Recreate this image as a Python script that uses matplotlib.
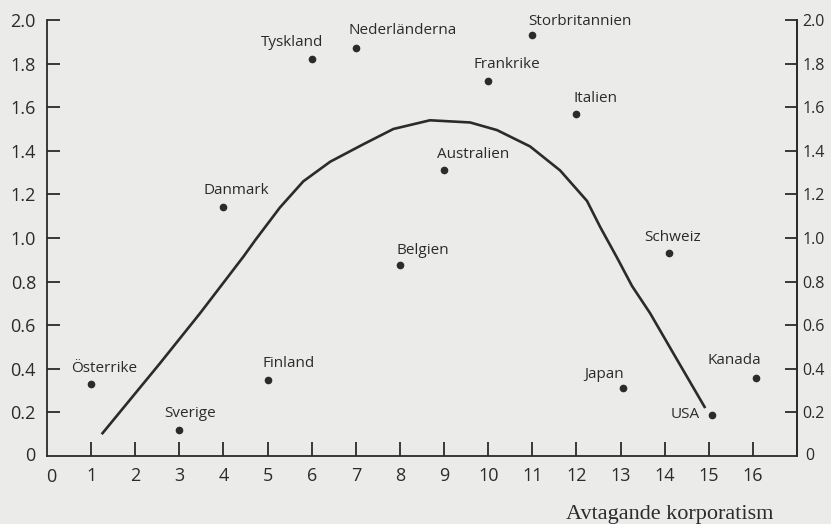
import matplotlib
matplotlib.use("Agg")
import matplotlib.pyplot as plt

countries = ["Österrike", "Sverige", "Finland", "Danmark", "Tyskland", "Nederländerna",
             "Belgien", "Australien", "Frankrike", "Storbritannien", "Italien",
             "Schweiz", "Japan", "USA", "Kanada"]
rank = [1, 3, 5, 4, 6, 7, 8, 9, 10, 11, 12, 14.1, 13.05, 15.07, 16.07]
value = [0.33, 0.12, 0.35, 1.14, 1.82, 1.87, 0.876, 1.31, 1.72, 1.93, 1.57,
         0.93, 0.31, 0.19, 0.36]

curve_x = [1.24, 2.56, 3.47, 4.45, 4.72, 5.28, 5.81, 6.42, 7.17, 7.85, 8.68,
           9.59, 10.2, 10.95, 11.63, 12.24, 12.54, 12.92, 13.26, 13.67, 14.2, 14.92]
curve_y = [0.10, 0.425, 0.655, 0.914, 0.99, 1.14, 1.26, 1.35, 1.43, 1.50, 1.54,
           1.53, 1.495, 1.42, 1.31, 1.17, 1.05, 0.91, 0.78, 0.655, 0.47, 0.22]

x_ticks = list(range(1, 17))
y_ticks = [0.2, 0.4, 0.6, 0.8, 1.0, 1.2, 1.4, 1.6, 1.8, 2.0]
y_labels = ["0.2", "0.4", "0.6", "0.8", "1.0", "1.2", "1.4", "1.6", "1.8", "2.0"]
xlabel = "Avtagande korporatism"

# label offsets in pixels (dx, dy) relative to dot, and alignment
offsets = {
    "Österrike": (13, 16, "center"), "Sverige": (11, 16, "center"),
    "Finland": (21, 16, "center"), "Danmark": (13, 17, "center"),
    "Tyskland": (-20, 17, "center"), "Nederländerna": (47, 18, "center"),
    "Belgien": (23, 15, "center"), "Australien": (29, 16, "center"),
    "Frankrike": (19, 17, "center"), "Storbritannien": (48, 14, "center"),
    "Italien": (19, 15, "center"), "Schweiz": (4, 16, "center"),
    "Japan": (-19, 14, "center"), "USA": (-12, 0, "right"),
    "Kanada": (-22, 17, "center"),
}

ink = "#2b2b2b"
bg = "#ebebe9"
sans = ["Open Sans", "DejaVu Sans"]
tick_fs = 13
right_fs = 11.5

fig = plt.figure(figsize=(8.31, 5.24), dpi=100, facecolor=bg)
ax = fig.add_axes([47 / 831, 1 - 456 / 524, (797 - 47) / 831, (456 - 20) / 524])
ax.set_facecolor(bg)
ax.set_xlim(0, 17.0)
ax.set_ylim(0, 2.0)

ax.plot(curve_x, curve_y, color=ink, lw=1.9, solid_capstyle="butt",
        solid_joinstyle="round")
ax.plot(rank, value, "o", color=ink, ms=4.5, mec=ink)

for c, xv, yv in zip(countries, rank, value):
    dx, dy, ha = offsets[c]
    ax.annotate(c, (xv, yv), xytext=(dx, dy), textcoords="offset pixels",
                ha=ha, va="center", fontsize=11, color=ink, family=sans)

for s in ["left", "bottom", "right"]:
    ax.spines[s].set_color(ink)
    ax.spines[s].set_linewidth(1.3)
ax.spines["top"].set_visible(False)

ax.set_xticks(x_ticks)
ax.set_xticklabels([str(v) for v in x_ticks])
ax.set_yticks(y_ticks)
ax.set_yticklabels(y_labels)
ax.tick_params(axis="x", direction="in", length=10, width=1.3, color=ink,
               pad=8, labelsize=tick_fs, labelcolor=ink)
ax.tick_params(axis="y", direction="in", length=9, width=1.3, color=ink,
               pad=8, labelsize=tick_fs, labelcolor=ink,
               left=True, right=False, labelleft=True, labelright=False)
for lab in ax.get_xticklabels() + ax.get_yticklabels():
    lab.set_family(sans)

# right-hand axis with the same scale
axr = ax.twinx()
axr.set_ylim(ax.get_ylim())
axr.set_yticks(y_ticks)
axr.set_yticklabels(y_labels)
axr.tick_params(axis="y", direction="in", length=9, width=1.3, color=ink,
                pad=4, labelsize=right_fs, labelcolor=ink)
for lab in axr.get_yticklabels():
    lab.set_family(sans)
for s in ["left", "bottom", "top"]:
    axr.spines[s].set_visible(False)
axr.spines["right"].set_color(ink)
axr.spines["right"].set_linewidth(1.3)

# zero labels at the corners
ax.annotate("0", (0, 0), xytext=(4, -21), textcoords="offset pixels",
            ha="center", va="center", fontsize=tick_fs, color=ink, family=sans,
            annotation_clip=False)
ax.annotate("0", (0, 0), xytext=(-17, 0), textcoords="offset pixels",
            ha="center", va="center", fontsize=tick_fs, color=ink, family=sans,
            annotation_clip=False)
ax.annotate("0", (17.0, 0), xytext=(13, 0), textcoords="offset pixels",
            ha="center", va="center", fontsize=right_fs, color=ink, family=sans,
            annotation_clip=False)

fig.text(670 / 831, 1 - 514 / 524, xlabel, ha="center", va="center",
         fontsize=16, color=ink, family=["Liberation Serif", "DejaVu Serif"])

fig.savefig("out.png", dpi=100, facecolor=bg)
